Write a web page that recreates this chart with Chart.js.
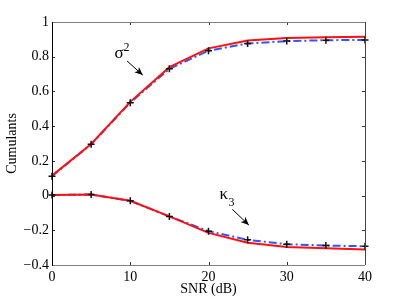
<!DOCTYPE html>
<html lang="en">
<head>
  <meta charset="UTF-8">
  <title>Cumulants vs SNR</title>
  <script src="https://cdn.jsdelivr.net/npm/chart.js"></script>
  <style>
    html, body { margin: 0; padding: 0; background: #fff; }
    #wrap { width: 403px; height: 298px; }
  </style>
</head>
<body>
<div id="wrap"><canvas id="cumChart" width="403" height="298"></canvas></div>
<script>
  // SNR in dB
  const snr = [0, 5, 10, 15, 20, 25, 30, 35, 40];
  // sigma^2: theory (red solid) and simulation (blue dash-dot, + markers)
  const sigmaTheory = [0.115, 0.297, 0.54, 0.74, 0.848, 0.893, 0.908, 0.912, 0.915];
  const sigmaSim    = [0.112, 0.295, 0.535, 0.73, 0.835, 0.876, 0.89, 0.895, 0.897];
  // kappa_3
  const kappaTheory = [0.003, 0.006, -0.03, -0.12, -0.215, -0.272, -0.296, -0.303, -0.31];
  const kappaSim    = [0.003, 0.006, -0.03, -0.12, -0.205, -0.255, -0.28, -0.288, -0.292];

  const xTicks = [0, 10, 20, 30, 40];
  const yTicks = [1, 0.8, 0.6, 0.4, 0.2, 0, -0.2, -0.4];

  const serif = '"Liberation Serif", "DejaVu Serif", serif';
  const pts = arr => snr.map((x, i) => ({ x: x, y: arr[i] }));

  // inward ticks, axis box and the two arrow annotations
  const boxPlugin = {
    id: 'boxPlugin',
    afterDraw(chart) {
      const { ctx, chartArea: a, scales: { x, y } } = chart;
      ctx.save();
      ctx.lineWidth = 1;
      ctx.strokeStyle = '#333';
      xTicks.forEach(v => {
        const px = Math.round(x.getPixelForValue(v)) + 0.5;
        ctx.beginPath();
        ctx.moveTo(px, a.bottom); ctx.lineTo(px, a.bottom - 3);
        ctx.moveTo(px, a.top); ctx.lineTo(px, a.top + 3);
        ctx.stroke();
      });
      yTicks.forEach(v => {
        const py = Math.round(y.getPixelForValue(v)) + 0.5;
        ctx.beginPath();
        ctx.moveTo(a.left, py); ctx.lineTo(a.left + 3, py);
        ctx.moveTo(a.right, py); ctx.lineTo(a.right - 3, py);
        ctx.stroke();
      });
      // box
      ctx.strokeStyle = '#808080';
      ctx.beginPath();
      ctx.moveTo(a.left, a.top + 0.5); ctx.lineTo(a.right, a.top + 0.5);
      ctx.moveTo(a.left, a.bottom + 0.5); ctx.lineTo(a.right, a.bottom + 0.5);
      ctx.stroke();
      ctx.strokeStyle = '#444';
      ctx.beginPath();
      ctx.moveTo(a.right + 0.5, a.top); ctx.lineTo(a.right + 0.5, a.bottom);
      ctx.stroke();
      ctx.strokeStyle = '#000';
      ctx.beginPath();
      ctx.moveTo(a.left + 0.5, a.top); ctx.lineTo(a.left + 0.5, a.bottom + 1);
      ctx.stroke();

      // annotations
      function arrow(x0, y0, x1, y1) {
        const p0 = [x.getPixelForValue(x0), y.getPixelForValue(y0)];
        const p1 = [x.getPixelForValue(x1), y.getPixelForValue(y1)];
        const ang = Math.atan2(p1[1] - p0[1], p1[0] - p0[0]);
        ctx.strokeStyle = '#000';
        ctx.fillStyle = '#000';
        ctx.lineWidth = 1;
        ctx.beginPath();
        ctx.moveTo(p0[0], p0[1]); ctx.lineTo(p1[0], p1[1]);
        ctx.stroke();
        ctx.beginPath();
        ctx.moveTo(p1[0], p1[1]);
        ctx.lineTo(p1[0] - 9 * Math.cos(ang - 0.4), p1[1] - 9 * Math.sin(ang - 0.4));
        ctx.lineTo(p1[0] - 6 * Math.cos(ang), p1[1] - 6 * Math.sin(ang));
        ctx.lineTo(p1[0] - 9 * Math.cos(ang + 0.4), p1[1] - 9 * Math.sin(ang + 0.4));
        ctx.closePath();
        ctx.fill();
      }
      ctx.fillStyle = '#000';
      ctx.textBaseline = 'alphabetic';
      ctx.font = '17px ' + serif;
      let px = x.getPixelForValue(8.0), py = y.getPixelForValue(0.79);
      ctx.fillText('σ', px, py);
      ctx.font = '12px ' + serif;
      ctx.fillText('2', px + 9, py - 7);
      arrow(9.6, 0.775, 11.6, 0.694);

      ctx.font = '17px ' + serif;
      px = x.getPixelForValue(21.4); py = y.getPixelForValue(-0.02);
      ctx.fillText('κ', px, py);
      ctx.font = '12px ' + serif;
      ctx.fillText('3', px + 9, py + 7);
      arrow(23.04, -0.079, 25.16, -0.17);
      ctx.restore();
    }
  };

  const ctx = document.getElementById('cumChart').getContext('2d');
  new Chart(ctx, {
    type: 'line',
    data: {
      datasets: [
        { data: pts(sigmaSim), borderColor: '#2f55ff', borderWidth: 2, borderDash: [8, 3, 2, 3],
          pointRadius: 0, order: 3 },
        { data: pts(kappaSim), borderColor: '#2f55ff', borderWidth: 2, borderDash: [8, 3, 2, 3],
          pointRadius: 0, order: 3 },
        { data: pts(sigmaTheory), borderColor: '#ff1010', borderWidth: 2, pointRadius: 0, order: 2 },
        { data: pts(kappaTheory), borderColor: '#ff1010', borderWidth: 2, pointRadius: 0, order: 2 },
        // + markers on the simulated points
        { data: pts(sigmaSim), showLine: false, pointStyle: 'cross', pointRadius: 3.5,
          pointBorderColor: '#111', pointBorderWidth: 1.5, order: 1 },
        { data: pts(kappaSim), showLine: false, pointStyle: 'cross', pointRadius: 3.5,
          pointBorderColor: '#111', pointBorderWidth: 1.5, order: 1 }
      ]
    },
    options: {
      responsive: false,
      animation: false,
      clip: false,
      layout: { padding: { left: 0, right: 38, top: 22, bottom: 0 } },
      plugins: { legend: { display: false }, tooltip: { enabled: false } },
      elements: { line: { tension: 0 } },
      scales: {
        x: {
          type: 'linear', min: 0, max: 40,
          grid: { display: false, drawTicks: false },
          border: { display: false },
          afterBuildTicks: s => { s.ticks = xTicks.map(v => ({ value: v })); },
          afterFit: s => { s.height = 33; },
          ticks: { padding: 4, color: '#000', maxRotation: 0, font: { family: serif, size: 14 } },
          title: { display: true, text: 'SNR (dB)', color: '#000', padding: { top: 0, bottom: 0 },
                   font: { family: serif, size: 14 } }
        },
        y: {
          type: 'linear', min: -0.4, max: 1,
          grid: { display: false, drawTicks: false },
          border: { display: false },
          afterBuildTicks: s => { s.ticks = yTicks.map(v => ({ value: v })); },
          afterFit: s => { s.width = 52; },
          ticks: { padding: 3, color: '#000', font: { family: serif, size: 14 },
                   callback: v => (v < 0 ? '\u2212' + String(-v) : String(v)) },
          title: { display: true, text: 'Cumulants', color: '#000', padding: { top: 4, bottom: 0 },
                   font: { family: serif, size: 14 } }
        }
      }
    },
    plugins: [boxPlugin]
  });
</script>
</body>
</html>
